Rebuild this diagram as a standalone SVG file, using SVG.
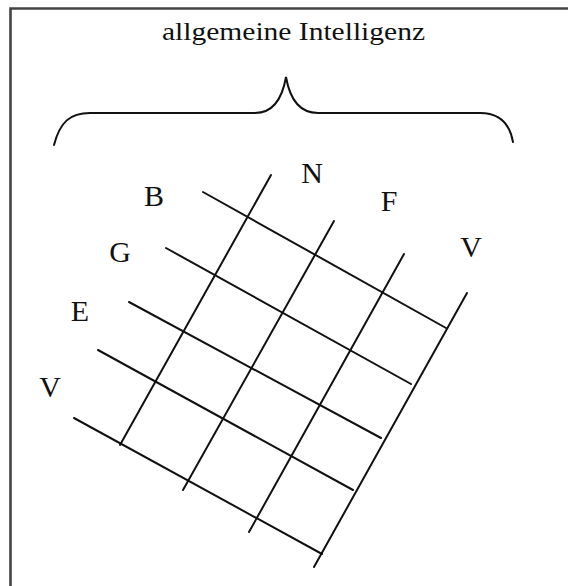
<svg xmlns="http://www.w3.org/2000/svg" width="568" height="586" viewBox="0 0 568 586">
<style>
.lbl{font-family:"Liberation Serif","Times New Roman",serif;font-size:30px;fill:#111;text-anchor:middle}
.ttl{font-family:"Liberation Serif","Times New Roman",serif;font-size:25px;fill:#111}
.ln{stroke:#111;stroke-width:2;fill:none;stroke-linecap:round}
</style>
<rect width="568" height="586" fill="#fff"/>
<path d="M10.5,590 V8.5 H572" fill="none" stroke="#444" stroke-width="2.6"/>
<g id="title"><text class="ttl" x="162" y="40" textLength="263" lengthAdjust="spacingAndGlyphs">allgemeine Intelligenz</text></g>
<g id="brace"><path class="ln" d="M54,145 C60,122 70,113 90,113 L255,113 C272,113 282,100 286,77 C290,100 300,113 318,113 L480,113 C500,113 510,125 513,142"/></g>
<g id="connectors">
<line class="ln" x1="203" y1="192" x2="446" y2="328"/>
<line class="ln" x1="166" y1="248" x2="411" y2="384"/>
<line class="ln" x1="129" y1="302" x2="381" y2="438"/>
<line class="ln" x1="98" y1="350" x2="353" y2="490"/>
<line class="ln" x1="74" y1="418" x2="322" y2="554"/>
<line class="ln" x1="271" y1="175" x2="120" y2="445"/>
<line class="ln" x1="334" y1="221" x2="183" y2="490"/>
<line class="ln" x1="404" y1="254" x2="249" y2="532"/>
<line class="ln" x1="467" y1="293" x2="314" y2="567"/>
</g>
<g id="N"><text class="lbl" x="312" y="183">N</text></g>
<g id="B"><text class="lbl" x="154" y="206">B</text></g>
<g id="F"><text class="lbl" x="389" y="211">F</text></g>
<g id="G"><text class="lbl" x="120" y="262">G</text></g>
<g id="V1"><text class="lbl" x="471" y="257">V</text></g>
<g id="E"><text class="lbl" x="80" y="321">E</text></g>
<g id="V2"><text class="lbl" x="50" y="397">V</text></g>
</svg>
